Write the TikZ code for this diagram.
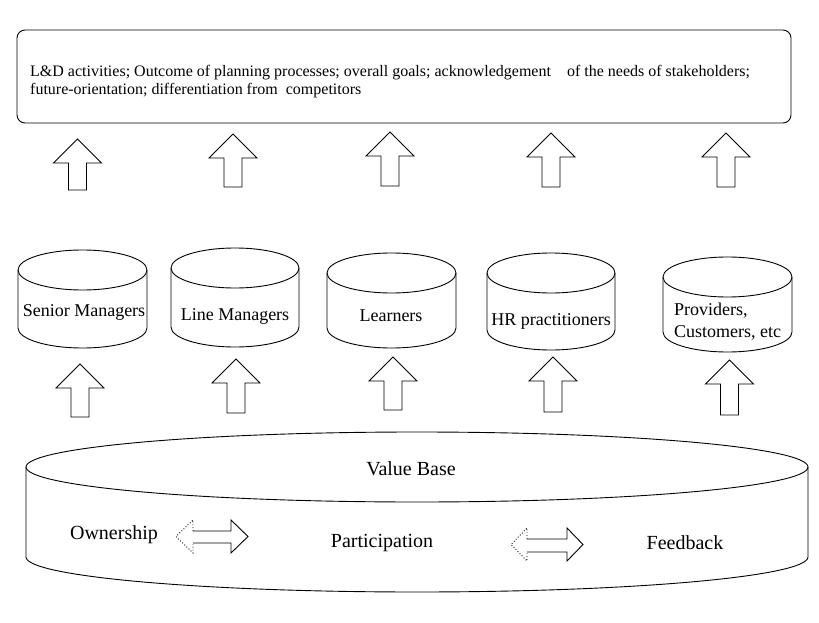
\documentclass[tikz,border=0pt]{standalone}
\usepackage{fontspec}
\setmainfont{Liberation Serif}
\newcommand\upblock[3]{% centre x, tip y, bottom y
  \draw[blk] (#1,#2) -- (#1+24,#2+24) -- (#1+9,#2+24) -- (#1+9,#3) -- (#1-9,#3) -- (#1-9,#2+24) -- (#1-24,#2+24) -- cycle;}
\newcommand\cyl[5]{% left, right, top, bottom, y radius
  \pgfmathsetmacro\cylcx{(#1+#2)/2}\pgfmathsetmacro\cylrx{(#2-#1)/2}
  \draw[blk] (\cylcx,#3+#5) ellipse [x radius=\cylrx, y radius=#5];
  \draw[blk] (#1,#3+#5) -- (#1,#4-#5) arc[start angle=180, end angle=0, x radius=\cylrx, y radius=#5] -- (#2,#3+#5);}
\newcommand\dblarrow[7]{% x1, x2, ytop, ybottom, shaft top, shaft bottom, head length
  \draw[blk, dotted] (#1+#7,#5) -- (#1+#7,#3) -- (#1,{(#3+#4)/2}) -- (#1+#7,#4) -- (#1+#7,#6);
  \draw[blk] (#1+#7,#5) -- (#2-#7,#5) -- (#2-#7,#3) -- (#2,{(#3+#4)/2}) -- (#2-#7,#4) -- (#2-#7,#6) -- (#1+#7,#6);}
\begin{document}
\begin{tikzpicture}[x=1pt, y=-1pt,
  blk/.style={draw=black, line width=0.9pt},
  boxtext/.style={font=\fontsize{16}{18}\selectfont, inner sep=0pt, anchor=base west},
  cyltext/.style={font=\fontsize{18}{21}\selectfont, inner sep=0pt, anchor=base},
  basetext/.style={font=\fontsize{20}{24}\selectfont, inner sep=0pt, anchor=base}]
\useasboundingbox (0,0) rectangle (819,623);
% top box
\node[blk, rounded corners=8pt, minimum width=774pt, minimum height=93pt, inner sep=0pt] (goals) at (404,76.5) {};
\node[boxtext] (goals1) at (30,77) {L\&D activities; Outcome of planning processes; overall goals; acknowledgement\hspace{12pt} of the needs of stakeholders;};
\node[boxtext] (goals2) at (30,95) {future-orientation; differentiation from\hspace{4pt} competitors};
% upper arrows
\upblock{77.5}{139}{190}
\upblock{233}{134}{187}
\upblock{390}{132}{186}
\upblock{551}{133}{187}
\upblock{726}{133}{187}
% cylinders
\cyl{18}{147}{250}{348}{20}
\cyl{171}{299}{248}{347}{20}
\cyl{327}{456}{253}{348}{20}
\cyl{487}{615}{253}{350}{20}
\cyl{663}{792}{257}{352}{20}
\node[cyltext] (senior) at (84,316) {Senior Managers};
\node[cyltext] (line) at (235,320) {Line Managers};
\node[cyltext] (learners) at (391,321) {Learners};
\node[cyltext] (hr) at (551,325) {HR practitioners};
\node[cyltext, anchor=base west] (prov1) at (674,315) {Providers,};
\node[cyltext, anchor=base west] (prov2) at (674,337) {Customers, etc};
% lower arrows
\upblock{80}{364}{417}
\upblock{236}{359}{413}
\upblock{393}{357}{410}
\upblock{553}{357}{412}
\upblock{729.5}{360}{415}
% value base
\cyl{26}{808}{432}{592}{35}
\node[basetext] (value) at (411,475) {Value Base};
\node[basetext] (own) at (114,539) {Ownership};
\node[basetext] (part) at (382,547) {Participation};
\node[basetext] (feed) at (685,549) {Feedback};
\dblarrow{176}{248}{520}{553}{531}{543}{17}
\dblarrow{511}{583}{528}{561}{539}{552}{16}
\end{tikzpicture}
\end{document}
